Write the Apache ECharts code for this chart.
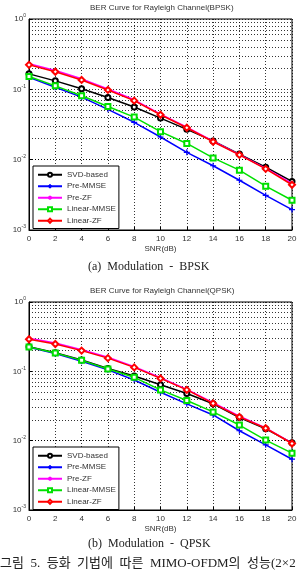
<!DOCTYPE html>
<html>
<head>
<meta charset="utf-8">
<script src="https://cdn.jsdelivr.net/npm/echarts@6/dist/echarts.min.js"></script>
<style>
  html, body { margin: 0; padding: 0; background: #fff; }
  #main { width: 297px; height: 574px; }
</style>
</head>
<body>
<div id="main"></div>
<script>
// SNR axis (dB)
const snr = [0, 2, 4, 6, 8, 10, 12, 14, 16, 18, 20];
const names = ['SVD-based', 'Pre-MMSE', 'Pre-ZF', 'Linear-MMSE', 'Linear-ZF'];

// (a) BPSK
const svdB     = [0.166, 0.132, 0.102, 0.0765, 0.056, 0.039, 0.027, 0.0185, 0.012, 0.0078, 0.0049];
const preMmseB = [0.148, 0.107, 0.0775, 0.052, 0.034, 0.021, 0.0127, 0.0082, 0.0051, 0.0031, 0.00195];
const preZfB   = [0.232, 0.185, 0.141, 0.101, 0.071, 0.0445, 0.029, 0.0183, 0.0118, 0.0075, 0.0046];
const linMmseB = [0.152, 0.112, 0.081, 0.057, 0.0403, 0.025, 0.017, 0.0106, 0.0071, 0.0042, 0.00265];
const linZfB   = [0.223, 0.178, 0.136, 0.098, 0.069, 0.0435, 0.0284, 0.018, 0.0117, 0.0074, 0.0044];

// (b) QPSK
const svdQ     = [0.226, 0.186, 0.146, 0.110, 0.0855, 0.064, 0.048, 0.034, 0.0215, 0.0148, 0.0093];
const preMmseQ = [0.222, 0.18, 0.14, 0.105, 0.075, 0.05, 0.034, 0.0235, 0.0139, 0.0087, 0.0054];
const preZfQ   = [0.30, 0.256, 0.205, 0.16, 0.117, 0.081, 0.055, 0.0352, 0.0225, 0.0153, 0.0092];
const linMmseQ = [0.225, 0.184, 0.144, 0.108, 0.082, 0.054, 0.038, 0.026, 0.0168, 0.0102, 0.0066];
const linZfQ   = [0.29, 0.248, 0.199, 0.155, 0.114, 0.079, 0.054, 0.0345, 0.022, 0.0151, 0.0091];

// minor log grid lines
const minorGrid = [0.2,0.3,0.4,0.5,0.6,0.7,0.8,0.9, 0.02,0.03,0.04,0.05,0.06,0.07,0.08,0.09, 0.002,0.003,0.004,0.005,0.006,0.007,0.008,0.009];

const font = 'Liberation Sans';
const plusPath = 'path://M5,0 L5,10 M0,5 L10,5';
const starPath = 'path://M5,0 L5,10 M0,5 L10,5 M1.5,1.5 L8.5,8.5 M8.5,1.5 L1.5,8.5';

const styles = [
  { color: '#000000', symbol: 'emptyCircle', size: 5 },
  { color: '#0000ff', symbol: plusPath, size: 6 },
  { color: '#ff00ff', symbol: starPath, size: 4 },
  { color: '#00e000', symbol: 'emptyRect', size: 5 },
  { color: '#ff0000', symbol: 'emptyDiamond', size: 6 }
];

function pairs(vals) {
  return snr.map((x, i) => [x, vals[i]]);
}

function makeSeries(sets, idx) {
  const out = [{
    name: 'grid' + idx, type: 'line', xAxisIndex: idx, yAxisIndex: idx,
    data: [], silent: true, z: 1,
    markLine: {
      silent: true, symbol: 'none', label: { show: false },
      lineStyle: { color: '#000', type: [1, 2], width: 0.8 },
      data: minorGrid.map(v => ({ yAxis: v }))
    }
  }];
  sets.forEach((vals, i) => {
    out.push({
      name: names[i], type: 'line', xAxisIndex: idx, yAxisIndex: idx, z: 3 + i,
      data: pairs(vals),
      symbol: styles[i].symbol, symbolSize: styles[i].size,
      itemStyle: { color: styles[i].color, borderColor: styles[i].color, borderWidth: 1.2 },
      lineStyle: { color: styles[i].color, width: 1.5 }
    });
  });
  return out;
}

function logLabel(v) {
  const e = Math.round(Math.log10(v));
  return '{b|10}{s|' + e + '}';
}

function xAxisCfg(idx) {
  return {
    gridIndex: idx, type: 'value', min: 0, max: 20, interval: 2,
    name: 'SNR(dB)', nameLocation: 'middle', nameGap: 15,
    nameTextStyle: { fontFamily: font, fontSize: 8, color: '#333' },
    axisLine: { lineStyle: { color: '#000' } },
    axisTick: { inside: true, length: 3, lineStyle: { color: '#000' } },
    axisLabel: { fontFamily: font, fontSize: 8, color: '#333', margin: 5 },
    splitLine: { show: true, lineStyle: { color: '#000', type: [1, 2], width: 0.8 } }
  };
}

function yAxisCfg(idx) {
  return {
    gridIndex: idx, type: 'log', logBase: 10, min: 0.001, max: 1,
    name: 'BER', nameLocation: 'middle', nameGap: 19, nameRotate: 90,
    nameTextStyle: { fontFamily: font, fontSize: 8, color: '#333' },
    axisLine: { lineStyle: { color: '#000' } },
    axisTick: { inside: true, length: 3, lineStyle: { color: '#000' } },
    axisLabel: {
      formatter: logLabel, margin: 3,
      rich: {
        b: { fontFamily: font, fontSize: 8, color: '#333' },
        s: { fontFamily: font, fontSize: 5, color: '#333', verticalAlign: 'bottom', padding: [0, 0, 6, 0] }
      }
    },
    splitLine: { show: true, lineStyle: { color: '#000', type: [1, 2], width: 0.8 } }
  };
}

function legendCfg(top) {
  return {
    data: names, orient: 'vertical', left: 33, top: top,
    itemWidth: 24, itemHeight: 5, itemGap: 2,
    padding: [4, 3, 3, 4],
    borderColor: '#000', borderWidth: 1, backgroundColor: '#fff',
    textStyle: { fontFamily: font, fontSize: 8, lineHeight: 9.5, color: '#333' }
  };
}

const chart = echarts.init(document.getElementById('main'));

const option = {
  animation: false,
  backgroundColor: '#fff',
  grid: [
    { left: 29, right: 5, top: 19, height: 211, show: true, borderColor: '#000', borderWidth: 1, outerBoundsMode: 'none', containLabel: false },
    { left: 29, right: 5, top: 302, height: 208, show: true, borderColor: '#000', borderWidth: 1, outerBoundsMode: 'none', containLabel: false }
  ],
  xAxis: [xAxisCfg(0), xAxisCfg(1)],
  yAxis: [yAxisCfg(0), yAxisCfg(1)],
  legend: [legendCfg(166), legendCfg(447)],
  series: makeSeries([svdB, preMmseB, preZfB, linMmseB, linZfB], 0)
    .concat(makeSeries([svdQ, preMmseQ, preZfQ, linMmseQ, linZfQ], 1)),
  graphic: [
    { type: 'text', left: 90, top: 4,
      style: { text: 'BER Curve for Rayleigh Channel(BPSK)', fontFamily: font, fontSize: 8, fill: '#333' } },
    { type: 'text', left: 90, top: 287,
      style: { text: 'BER Curve for Rayleigh Channel(QPSK)', fontFamily: font, fontSize: 8, fill: '#333' } },
    { type: 'text', left: 88, top: 261,
      style: { text: '(a)  Modulation  -  BPSK', fontFamily: 'Liberation Serif', fontSize: 12, fill: '#222' } },
    { type: 'text', left: 88, top: 538,
      style: { text: '(b)  Modulation  -  QPSK', fontFamily: 'Liberation Serif', fontSize: 12, fill: '#222' } },
    { type: 'text', left: 0, top: 557,
      style: { text: '그림  5.  등화  기법에  따른  MIMO-OFDM의  성능(2×2', fontFamily: 'Liberation Serif, Noto Sans CJK KR', fontSize: 13, fill: '#222' } }
  ]
};

chart.setOption(option);
</script>
</body>
</html>
